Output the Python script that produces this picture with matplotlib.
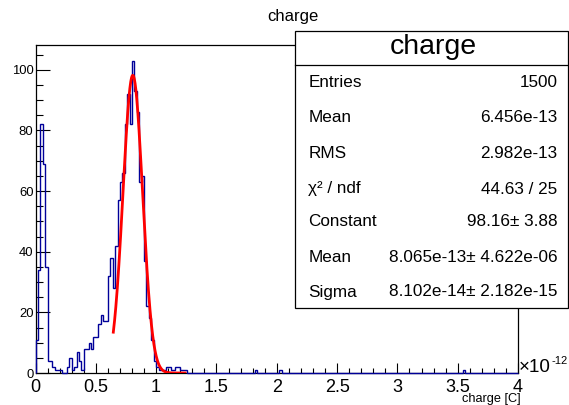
import numpy as np
import matplotlib
matplotlib.use('Agg')
import matplotlib.pyplot as plt
from matplotlib.patches import Rectangle
from matplotlib.lines import Line2D
from matplotlib.ticker import MultipleLocator, FixedLocator, FixedFormatter

plt.rcParams['font.family'] = ['Liberation Sans', 'DejaVu Sans']

# ---- data (x in units of 1e-12 C) ----
x_min, x_max, n_bins = 0.0, 4.0, 200
counts = [
    11, 34, 82, 69, 35, 4, 4, 2, 1, 1,
    1, 0, 0, 2, 5, 1, 2, 7, 4, 1,
    8, 8, 10, 8, 12, 12, 16, 19, 17, 17,
    32, 38, 28, 42, 57, 63, 66, 82, 92, 82,
    103, 93, 86, 63, 65, 37, 22, 18, 11, 4,
    2, 1, 1, 1, 2, 2, 1, 1, 2, 2,
    1, 1, 1, 0, 0, 0, 0, 0, 0, 0,
    0, 0, 0, 0, 0, 0, 0, 0, 0, 0,
    0, 0, 0, 0, 0, 0, 0, 0, 0, 0,
    0, 1, 0, 0, 0, 0, 0, 0, 0, 0,
    0, 1, 0, 0, 0, 0, 0, 0, 0, 0,
    0, 0, 0, 0, 0, 0, 0, 0, 0, 0,
    0, 0, 0, 0, 0, 0, 0, 0, 0, 0,
    0, 0, 0, 0, 0, 0, 0, 0, 0, 0,
    0, 0, 0, 0, 0, 0, 0, 0, 0, 0,
    0, 0, 0, 0, 0, 0, 0, 0, 0, 0,
    0, 0, 0, 0, 0, 0, 0, 0, 0, 0,
    0, 0, 0, 0, 0, 0, 0, 1, 0, 0,
    0, 0, 0, 0, 0, 0, 0, 0, 0, 0,
    0, 0, 0, 0, 0, 0, 0, 0, 0, 0,
]
fit_const, fit_mean, fit_sigma = 98.16, 0.8065, 0.08102
fit_lo, fit_hi = 0.645, 1.24

x_ticks = [0, 0.5, 1, 1.5, 2, 2.5, 3, 3.5, 4]
x_tick_labels = ['0', '0.5', '1', '1.5', '2', '2.5', '3', '3.5', '4']
y_ticks = [0, 20, 40, 60, 80, 100]
y_tick_labels = ['0', '20', '40', '60', '80', '100']

title = 'charge'
x_title = 'charge [C]'
stats_name = 'charge'
stats_labels = ['Entries', 'Mean', 'RMS', '\u03c7\u00b2 / ndf', 'Constant', 'Mean', 'Sigma']
stats_values = ['1500', '6.456e-13', '2.982e-13', '44.63 / 25', '98.16\u00b1 3.88',
                '8.065e-13\u00b1 4.622e-06', '8.102e-14\u00b1 2.182e-15']

# ---- layout ----
W, H = 569, 405
fig = plt.figure(figsize=(W / 100, H / 100), dpi=100)
L, R, T, B = 35.5, 518, 45, 373
ax = fig.add_axes([L / W, 1 - B / H, (R - L) / W, (B - T) / H])

def fx(px):
    return px / W

def fy(py):
    return 1 - py / H

edges = np.linspace(x_min, x_max, n_bins + 1)
ax.stairs(counts, edges, color='#000099', lw=1.0, clip_on=False, zorder=3)
xf = np.linspace(fit_lo, fit_hi, 400)
ax.plot(xf, fit_const * np.exp(-0.5 * ((xf - fit_mean) / fit_sigma) ** 2),
        color='#ff0000', lw=2, zorder=4)

ax.set_xlim(x_min, x_max)
ax.set_ylim(0, 1.05 * max(counts))

ax.xaxis.set_major_locator(FixedLocator(x_ticks))
ax.xaxis.set_major_formatter(FixedFormatter(x_tick_labels))
ax.xaxis.set_minor_locator(MultipleLocator(0.1))
ax.yaxis.set_major_locator(FixedLocator(y_ticks))
ax.yaxis.set_major_formatter(FixedFormatter(y_tick_labels))
ax.yaxis.set_minor_locator(MultipleLocator(5))

ax.tick_params(axis='x', which='major', direction='in', length=7, width=0.8,
               labelsize=13, pad=4, top=False)
ax.tick_params(axis='x', which='minor', direction='in', length=3.5, width=0.8, top=False)
ax.tick_params(axis='y', which='major', direction='in', length=10.4, width=0.8,
               labelsize=9.4, pad=1.5, right=False)
ax.tick_params(axis='y', which='minor', direction='in', length=5, width=0.8, right=False)
for s in ax.spines.values():
    s.set_linewidth(0.9)
    s.set_color('black')

# title
fig.text(fx(293), fy(17), title, ha='center', va='center', fontsize=12)

# exponent and axis title
fig.text(fx(519), fy(368), '\u00d710', ha='left', va='center', fontsize=13.5)
fig.text(fx(552), fy(361), '-12', ha='left', va='center', fontsize=8)
fig.text(fx(521), fy(399), x_title, ha='right', va='center', fontsize=9.2)

# stats box
bx0, by0, bx1, by1 = 295, 31.5, 567.5, 307.5
box = Rectangle((fx(bx0), fy(by1)), fx(bx1) - fx(bx0), fy(by0) - fy(by1),
                transform=fig.transFigure, facecolor='white', edgecolor='black',
                lw=0.9, zorder=10)
fig.add_artist(box)
fig.add_artist(Line2D([fx(bx0), fx(bx1)], [fy(65), fy(65)], transform=fig.transFigure,
                      color='black', lw=0.9, zorder=11))
fig.text(fx(433), fy(47), stats_name, ha='center', va='center', fontsize=20.5, zorder=12)
row_y = [82.5, 118, 153, 189, 222, 257, 292]
for yy, lab, val in zip(row_y, stats_labels, stats_values):
    fig.text(fx(308.5), fy(yy), lab, ha='left', va='center', fontsize=12.3, zorder=12)
    fig.text(fx(557.5), fy(yy), val, ha='right', va='center', fontsize=12.3, zorder=12)

fig.savefig('out.png', dpi=100)
